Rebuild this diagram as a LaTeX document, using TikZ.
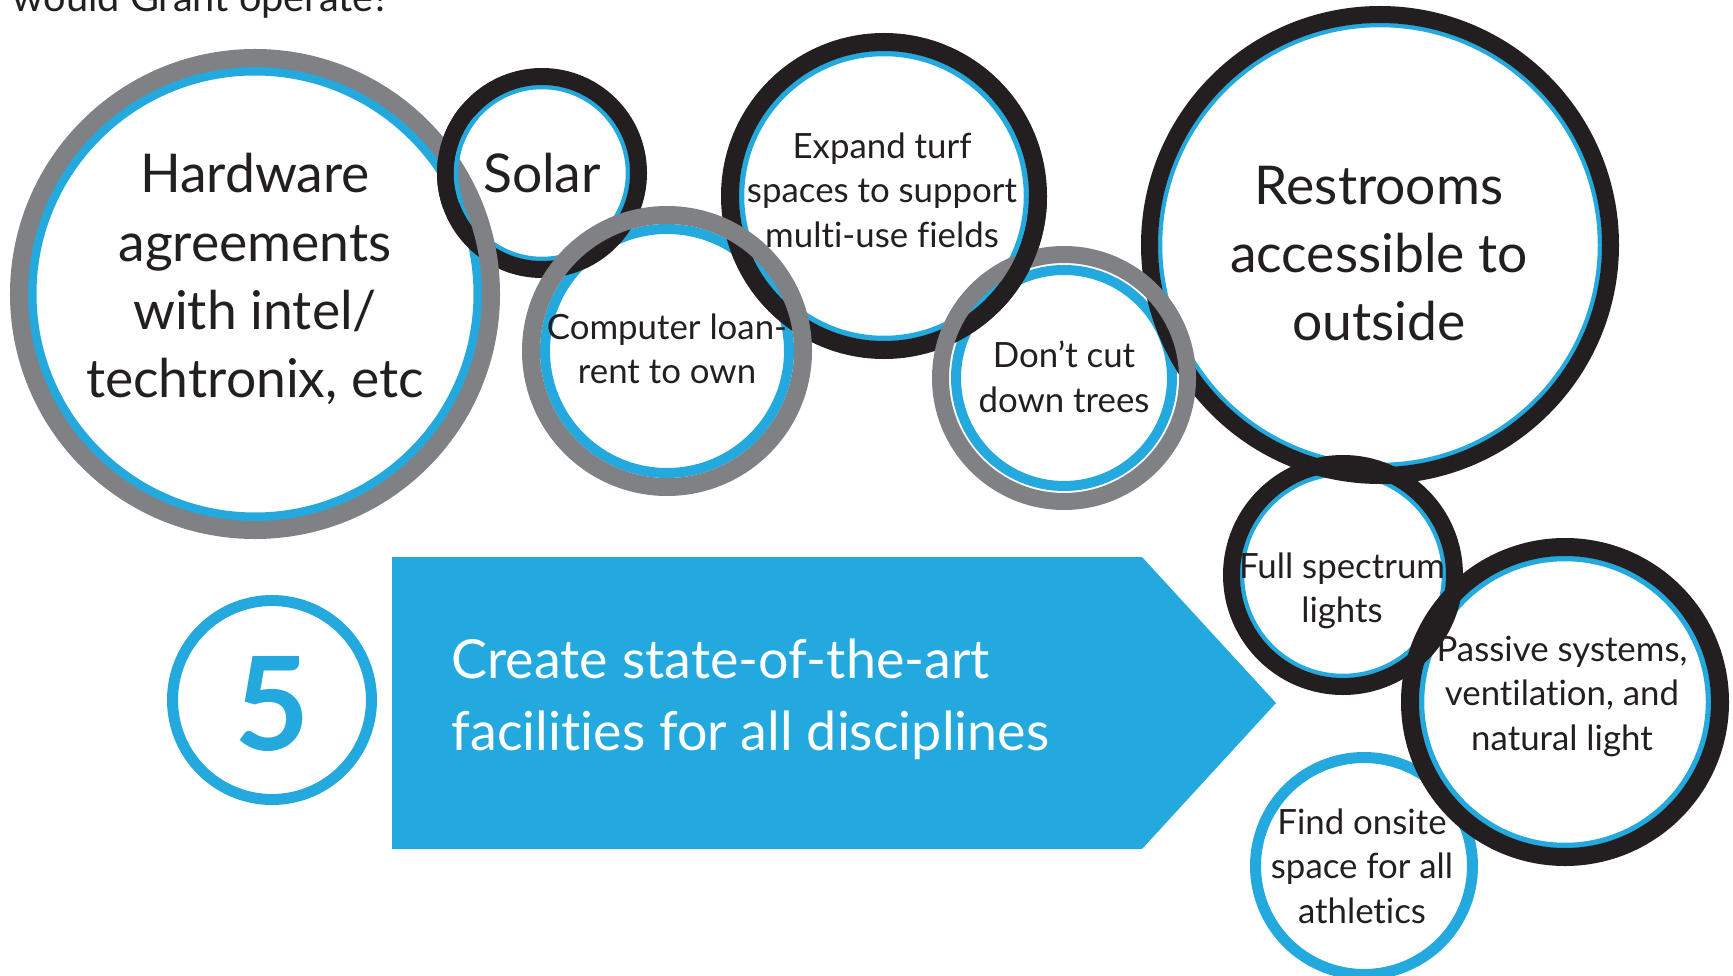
\documentclass[tikz,border=0pt]{standalone}
\usepackage{fontspec}
\setmainfont{Lato}[Ligatures={NoCommon}]
\usepackage{tikz}

\definecolor{ringblue}{HTML}{24A9DE}
\definecolor{ringgray}{HTML}{808184}
\definecolor{ringblack}{HTML}{231F20}
\definecolor{ink}{HTML}{231F20}

\begin{document}
\begin{tikzpicture}[x=0.01cm,y=-0.01cm]

  \tikzstyle{gring}=[draw=ringgray,line width=1.8mm]
  \tikzstyle{kring}=[draw=ringblack,line width=1.7mm]
  \tikzstyle{bring}=[draw=ringblue,line width=1mm]
  \tikzstyle{bline}=[draw=ringblue,line width=0.45mm]
  \tikzstyle{big}=[align=center,text=ink,font=\fontsize{15.2}{19.35}\selectfont]
  \tikzstyle{mid}=[align=center,text=ink,font=\fontsize{9.9}{12.66}\selectfont]

  \useasboundingbox (0,0) rectangle (1733,976);

  \coordinate (hw)      at (255,294);
  \coordinate (solar)   at (542,173);
  \coordinate (loan)    at (667,351);
  \coordinate (turf)    at (884,196);
  \coordinate (trees)   at (1064,378);
  \coordinate (rest)    at (1380,245);
  \coordinate (light)   at (1343,575);
  \coordinate (passive) at (1565,702);
  \coordinate (sports)  at (1364,866);
  \coordinate (five)    at (272,700);

  %% blue rings underneath
  \draw [bring,line width=1.1mm] (sports) circle (108.5);
  \draw [bring,line width=1.1mm] (five)   circle (99.5);
  \draw [bring,line width=0.9mm]  (hw)    circle (223);
  \draw [bring]                   (loan)  circle (122);
  \draw [draw=white,line width=0.25mm] (trees) circle (114);
  \draw [bring]                   (trees) circle (108);
  \draw [bline]                   (solar)   circle (86);
  \draw [bline,line width=0.55mm] (turf)    circle (142.5);
  \draw [bline]                   (rest)    circle (220);
  \draw [bline]                   (light)   circle (101);
  \draw [bline,line width=0.55mm] (passive) circle (143.5);

  %% black rings
  \draw [kring]                   (solar)   circle (96.5);
  \draw [kring,line width=1.8mm]  (turf)    circle (154);
  \draw [kring]                   (rest)    circle (230.5);
  \draw [kring]                   (light)   circle (111.5);
  \draw [kring,line width=1.8mm]  (passive) circle (155);

  %% gray rings on top
  \draw [gring]                   (hw)    circle (236);
  \draw [gring]                   (loan)  circle (136);
  \draw [gring,line width=1.7mm]  (trees) circle (123.5);

  %% black links passing back over the gray ones
  \draw [kring]                  (solar) ++(160:96.5) arc (160:220:96.5);
  \draw [bline]                  (solar) ++(160:86) arc (160:220:86);
  \draw [kring,line width=1.8mm] (turf) ++(0:154) arc (0:45:154);

  %% banner
  \fill [ringblue] (392,557) -- (1142,557) -- (1276,703) -- (1142,849) -- (392,849) -- cycle;

  \node (title) at (12,12) [anchor=base west,inner sep=0,text=ink,
         font=\fontsize{11.3}{13}\selectfont] {would Grant operate?};

  \node (hwtext)      at (255,279)  [big] {Hardware\\agreements\\with intel/\\techtronix, etc};
  \node (solartext)   at (542,173)  [big] {Solar};
  \node (loantext)    at (667,349)  [mid] {Computer loan-\\rent to own};
  \node (turftext)    at (882,190)  [mid] {Expand turf\\spaces to support\\multi-use fields};
  \node (treestext)   at (1064,377) [mid] {Don’t cut\\down trees};
  \node (resttext)    at (1379,254) [big] {Restrooms\\accessible to\\outside};
  \node (lighttext)   at (1342,591) [mid] {Full spectrum\\lights};
  \node (passivetext) at (1562,696) [mid] {Passive systems,\\ventilation, and\\natural light};
  \node (sportstext)  at (1362,866) [mid] {Find onsite\\space for all\\athletics};

  \node (fivetext) at (272,704) [text=ringblue,
         font=\bfseries\fontsize{37}{40}\selectfont] {5};
  \node (goaltext) at (451,699) [anchor=west,inner xsep=0,align=left,text=white,
         font=\fontsize{15.3}{20.5}\selectfont]
         {Create state-of-the-art\\facilities for all disciplines};
\end{tikzpicture}
\end{document}
